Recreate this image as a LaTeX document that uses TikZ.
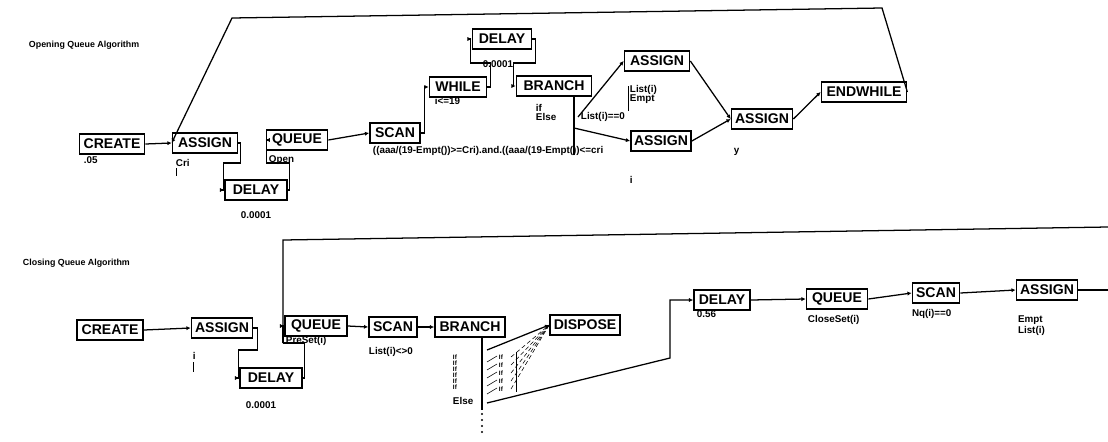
\documentclass[tikz,border=0pt]{standalone}
\usepackage{fontspec}
\setsansfont{Liberation Sans}
\usepackage{tikz}
\usetikzlibrary{arrows.meta,positioning,calc}

\newcommand{\blkfont}{\sffamily\bfseries\fontsize{10}{10}\selectfont}
\newcommand{\lblfont}{\sffamily\bfseries\fontsize{7}{6.5}\selectfont}
\newcommand{\ttlfont}{\sffamily\bfseries\fontsize{6.3}{7}\selectfont}

\tikzset{
  sim block/.style={
    draw,
    line width=1.2pt,
    fill=white,
    font=\blkfont,
    minimum height=0.5cm,
    inner xsep=2pt,
    inner ysep=0pt
  },
  bw/.style={minimum width=#1*0.025cm},
  sim label/.style={
    font=\lblfont,
    inner sep=0.5pt,
    anchor=west,
    align=left
  },
  sim title/.style={sim label, font=\ttlfont},
  flow/.style={
    draw,
    line width=0.9pt,
    -{Latex[length=3pt,width=3pt]}
  },
  link/.style={draw, line width=0.9pt},
  fan/.style={draw, line width=0.4pt, densely dashed}
}

\begin{document}
\begin{tikzpicture}[x=0.025cm, y=-0.025cm]
  \useasboundingbox (0,0) rectangle (1108,441);

  % Opening Queue Algorithm
  \node[sim title] (otitle) at (28,45) {Opening Queue Algorithm};
  \node[sim block, bw=65] (ocreate)   at (112,144) {CREATE};
  \node[sim block, bw=65] (oassign)   at (205,143) {ASSIGN};
  \node[sim block, bw=62] (odelay)    at (256,190) {DELAY};
  \node[sim block, bw=61] (oqueue)    at (297,140) {QUEUE};
  \node[sim block, bw=50] (oscan)     at (395,133) {SCAN};
  \node[sim block, bw=57] (owhile)    at (458,87)  {WHILE};
  \node[sim block, bw=59] (odelayb)   at (502,39)  {DELAY};
  \node[sim block, bw=75] (obranch)   at (554,86)  {BRANCH};
  \node[sim block, bw=65] (oassigna)  at (657,61)  {ASSIGN};
  \node[sim block, bw=60] (oassignb)  at (661,141) {ASSIGN};
  \node[sim block, bw=61] (oassignc)  at (762,119) {ASSIGN};
  \node[sim block, bw=85] (oendwhile) at (864,92)  {ENDWHILE};

  \coordinate (otopr) at (882,8);
  \coordinate (otopl) at (232,18);
  \coordinate (obot)  at (574,155);
  \coordinate (oifa)  at (578,117);
  \coordinate (oelse) at (574,128);

  \draw[flow] (ocreate.east) -- (oassign.west);
  \draw[flow] (oassign.east) -- ++(2,0) -- ++(0,20) -- ++(-17,0) |- (odelay.west);
  \draw[flow] (odelay.east) -- ++(2,0) -- ++(0,-27) -- ++(-23,0) |- (oqueue.west);
  \draw[flow] (oqueue.east) -- (oscan.west);
  \draw[flow] (oscan.east) -- ++(4,0) |- (owhile.west);
  \draw[flow] (owhile.east) -- ++(3,0) -- ++(0,-24) -- ++(-20,0) |- (odelayb.west);
  \draw[flow] (odelayb.east) -- ++(3,0) -- ++(0,24) -- ++(-22,0) |- (obranch.west);
  \draw[link] (obranch.south -| obot) -- (obot);
  \draw[flow] (oifa) -- (oassigna.west);
  \draw[flow] (oelse) -- (oassignb.west);
  \draw[flow] (oassigna.east) -- (oassignc.west);
  \draw[flow] (oassignb.east) -- (oassignc.west);
  \draw[flow] (oassignc.east) -- (oendwhile.west);
  \draw[flow] (oendwhile.east) -- (otopr) -- (otopl) -- (oassign.west);

  \node[sim label] at (83,160) {.05};
  \node[sim label] at (175,163) {Cri};
  \draw[line width=0.5pt] (176,168) -- (176,176);
  \node[sim label] at (240,215) {0.0001};
  \node[sim label] at (268,160) {Open};
  \node[sim label] at (372,151) {((aaa/(19-Empt())>=Cri).and.((aaa/(19-Empt())<=cri};
  \node[sim label] at (434,101) {i<=19};
  \node[sim label] at (482,64) {0.0001};
  \node[sim label, anchor=north west] at (535,103) {if\\Else};
  \node[sim label] at (580,117) {List(i)==0};
  \draw[line width=0.5pt] (628,111) -- (628,86);
  \node[sim label, anchor=north west] at (629,84) {List(i)\\Empt};
  \node[sim label] at (629,180) {i};
  \node[sim label] at (733,152) {y};

  % Closing Queue Algorithm
  \node[sim title] (ctitle) at (22,263) {Closing Queue Algorithm};
  \node[sim block, bw=66] (ccreate)  at (110,330) {CREATE};
  \node[sim block, bw=61] (cassign)  at (222,328) {ASSIGN};
  \node[sim block, bw=62] (cdelay)   at (271,378) {DELAY};
  \node[sim block, bw=62] (cqueue)   at (316,326) {QUEUE};
  \node[sim block, bw=48] (cscan)    at (393,327) {SCAN};
  \node[sim block, bw=70] (cbranch)  at (470,327) {BRANCH};
  \node[sim block, bw=70] (cdispose) at (585,325) {DISPOSE};
  \node[sim block, bw=56] (cdelayb)  at (722,300) {DELAY};
  \node[sim block, bw=61] (cqueueb)  at (837,299) {QUEUE};
  \node[sim block, bw=47] (cscanb)   at (936,293) {SCAN};
  \node[sim block, bw=61] (cassignb) at (1047,290) {ASSIGN};

  \coordinate (cjoin) at (283,343);
  \coordinate (ctopl) at (283,240);
  \coordinate (ctopr) at (1108,227);
  \coordinate (cbot)  at (482,410);
  \coordinate (cif)   at (487,350);
  \coordinate (celse) at (487,403);
  \coordinate (cbend) at (670,358);
  \coordinate (cout)  at (1108,290);

  \draw[flow] (ccreate.east) -- (cassign.west);
  \draw[flow] (cassign.east) -- ++(4,0) -- ++(0,22) -- ++(-19,0) |- (cdelay.west);
  \draw[link] (cdelay.east) -- ++(2,0) |- (cjoin);
  \draw[link] (cjoin) -- (ctopl) -- (ctopr);
  \draw[flow] (cjoin) |- (cqueue.west);
  \draw[flow] (cqueue.east) -- (cscan.west);
  \draw[flow] (cscan.east) -- (cbranch.west);
  \draw[link] (cbranch.south -| cbot) -- (cbot);
  \foreach \k in {0,...,3}
    \fill (482,414+6*\k) circle (1.2);
  \draw[flow] (cif) -- (cdispose.west);
  \foreach \k in {0,...,4} {
    \draw[line width=0.4pt] (487,362+8*\k) -- (497,356+8*\k);
    \node[sim label, font=\sffamily\bfseries\fontsize{4.5}{4}\selectfont] at (498,357+8*\k) {If};
    \draw[fan] (511,357+8*\k) -- (cdispose.west);
  }
  \draw[line width=0.6pt] (516,352) -- (516,392);
  \foreach \k in {0,...,5}
    \node[sim label, font=\sffamily\bfseries\fontsize{4.5}{4}\selectfont] at (452,357+6*\k) {If};
  \node[sim label] at (452,401) {Else};
  \draw[flow] (celse) -- (cbend) |- (cdelayb.west);
  \draw[flow] (cdelayb.east) -- (cqueueb.west);
  \draw[flow] (cqueueb.east) -- (cscanb.west);
  \draw[flow] (cscanb.east) -- (cassignb.west);
  \draw[link] (cassignb.east) -- (cout);

  \node[sim label] at (192,356) {i};
  \draw[line width=0.5pt] (193,362) -- (193,372);
  \node[sim label] at (245,405) {0.0001};
  \node[sim label] at (285,341) {PreSet(i)};
  \node[sim label] at (368,352) {List(i)<>0};
  \node[sim label] at (696,314) {0.56};
  \node[sim label] at (807,320) {CloseSet(i)};
  \node[sim label] at (911,314) {Nq(i)==0};
  \node[sim label, anchor=north west] at (1017,315) {Empt\\List(i)};
\end{tikzpicture}
\end{document}
